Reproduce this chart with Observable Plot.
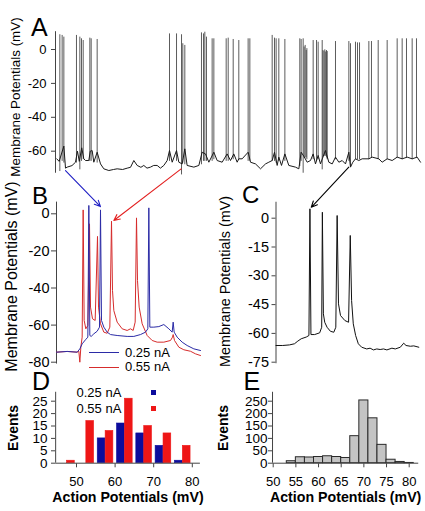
<!DOCTYPE html>
<html><head><meta charset="utf-8">
<script src="https://cdn.jsdelivr.net/npm/d3@7"></script>
<script src="https://cdn.jsdelivr.net/npm/@observablehq/plot@0.6"></script>
<style>
html,body{margin:0;padding:0;background:#fff;}
#fig{position:relative;width:425px;height:511px;overflow:hidden;font-family:"Liberation Sans",Arial,Helvetica,sans-serif;}
#fig svg{position:absolute;left:0;top:0;background:transparent !important;overflow:visible;}
.leg{position:absolute;font-size:13px;line-height:14px;height:14px;color:#000;white-space:nowrap;}
.sw{position:absolute;}
</style></head><body><div id="fig"></div>
<script>
// ---------------- DATA ----------------
// Panel A: long recording, baseline (time s, mV) and spikes [time s, peak mV, trough mV]
const traceA = [[0.2,-64.5],[0.6,-66],[1.37,-57],[1.64,-70],[1.91,-69.4],[2.7,-68.5],[3.28,-66.5],[3.6,-60],[3.9,-66],[4.3,-58],[4.64,-64.5],[4.92,-65.5],[5.46,-65.5],[5.7,-60],[6.01,-59.6],[6.28,-66.5],[6.83,-60.6],[7.38,-67.5],[7.92,-70.4],[8.74,-71.4],[9.5,-70.8],[10.11,-70.4],[11.0,-70.8],[11.75,-70.0],[12.3,-69.5],[12.84,-65.5],[13.39,-68.4],[14.0,-69.5],[14.48,-68.4],[15.0,-70],[15.57,-69.4],[16.1,-68.4],[16.67,-68.4],[17.2,-70],[17.76,-68.4],[18.31,-65.5],[18.69,-59.6],[19.13,-66.5],[19.84,-59.6],[20.22,-66.5],[20.77,-67.5],[21.2,-58.6],[21.58,-68.4],[22.68,-69.4],[23.5,-68.4],[24.04,-60.6],[24.59,-61.6],[25.14,-66.5],[25.96,-60.6],[26.5,-65.5],[27.32,-66.5],[28.14,-61.6],[28.69,-65.5],[29.23,-61.6],[29.78,-66.5],[30.05,-64.5],[30.6,-64.5],[31.58,-60.6],[31.97,-66.5],[32.79,-67.5],[33.61,-70.4],[34.43,-67.5],[34.97,-66.5],[35.52,-65.5],[35.9,-60.6],[36.34,-68.4],[36.61,-63.5],[37.05,-68.4],[37.6,-61.6],[38.25,-68.4],[39.34,-69.4],[39.89,-70.4],[40.27,-60.6],[40.71,-63],[41.26,-66.5],[41.8,-65.5],[42.24,-61.6],[42.62,-67.5],[43.06,-62.5],[43.44,-67.5],[43.83,-63.5],[44.26,-59.6],[44.81,-66.5],[45.36,-67.5],[45.9,-63.5],[46.45,-66.5],[47.0,-65.5],[47.54,-67.5],[48.09,-60.6],[48.36,-69.4],[48.74,-66.5],[49.18,-64.5],[49.73,-65.5],[50.27,-64.5],[51.37,-64.5],[51.91,-63.5],[53.0,-64.5],[53.55,-66.5],[54.37,-64.5],[55.19,-65.5],[56.01,-63.5],[56.83,-64.5],[57.65,-63.5],[58.47,-64.5],[59.29,-63.5],[59.84,-66.5]];
const spikesA = [[0.71,8.7,-72],[1.09,8.3,-66],[1.37,7.3,-67],[3.44,8.3,-67],[3.99,7.3,-71],[4.26,6.3,-66],[4.54,5.3,-65],[5.63,6.7,-66],[5.85,6.3,-66],[6.83,5.9,-67],[18.69,9.2,-66],[19.84,9.2,-66],[20.66,8.7,-74],[20.87,3.4,-67],[21.2,2.4,-68],[23.93,9.8,-68],[24.26,9.2,-66],[24.48,10.2,-66],[24.75,7.3,-66],[25.68,6.3,-66],[25.96,6.3,-65],[27.98,6.3,-66],[28.31,6.7,-66],[29.13,5.9,-65],[30.05,5.3,-65],[31.58,6.3,-66],[31.86,6.3,-66],[35.52,8.3,-66],[35.9,6.7,-66],[36.17,6.3,-67],[36.61,6.3,-66],[37.6,5.9,-66],[40.05,6.3,-69],[40.27,5.9,-66],[40.6,6.3,-73],[40.76,1.5,-64],[40.93,2.4,-64],[41.1,-0.6,-64],[41.21,0.5,-65],[42.24,5.3,-65],[42.79,5.3,-66],[43.06,4.3,-65],[43.72,5.3,-71],[43.83,-0.6,-64],[44.0,-1.0,-63],[44.15,-0.2,-63],[44.3,-1.5,-63],[44.43,-0.6,-64],[44.54,-1.2,-65],[45.9,4.7,-65],[48.09,4.7,-66],[48.36,3.4,-69],[49.18,4.3,-65],[49.51,3.9,-65],[49.84,3.9,-65],[51.37,4.7,-65],[51.8,4.7,-64],[52.9,5.3,-65],[54.37,5.3,-65],[56.01,6.3,-64],[56.83,6.3,-65],[57.54,6.3,-64],[58.47,6.3,-65],[59.18,6.3,-64]];
const ticksA = [0,-20,-40,-60];

// Panel B: two current injections (time ms, mV)
const traceB025 = [[0,-74.6],[80,-74.2],[155,-74.6],[175,-72.8],[192.5,-70.1],[217.5,-67.9],[235,-66.5],[242.5,4.5],[250,-65.6],[260,-66.1],[280,-64.7],[305,-63.3],[322.5,-61.1],[330,2.1],[337.5,-57.5],[355,-61.1],[380,-63.8],[405,-65.1],[455,-65.6],[530,-66.1],[580,-66.1],[630,-65.1],[667.5,-63.8],[685,-62.0],[692.5,3.2],[700,-61.1],[730,-61.1],[767.5,-60.8],[805,-59.7],[842.5,-62.0],[867.5,-63.8],[875,-58.4],[882.5,-63.8],[905,-66.5],[942.5,-69.2],[980,-71.0],[1030,-72.8],[1080,-73.7]];
const traceB055 = [[0,-74.6],[80,-74.2],[155,-74.6],[167.5,-74.1],[175,-80.0],[182.5,-71.9],[192.5,-66.5],[200,2.1],[207.5,-57.5],[220,-62.0],[235,-60.2],[247.5,-5.4],[255,-50.3],[270,-56.6],[290,-57.5],[307.5,-12.2],[315,-50.3],[330,-59.3],[355,-63.8],[380,-64.4],[400,-61.1],[412.5,-4.0],[420,-41.4],[430,-52.2],[455,-58.4],[492.5,-62.0],[530,-62.9],[555,-62.0],[575,-62.9],[590,-58.4],[600,-2.2],[607.5,-36.0],[620,-50.3],[642.5,-59.3],[680,-65.6],[717.5,-68.3],[755,-69.2],[805,-69.2],[855,-68.3],[870,-66.5],[875,-65.1],[885,-68.3],[917.5,-71.9],[955,-73.3],[1005,-74.1],[1042.5,-75.5],[1080,-76.4]];
const ticksB = [0,-20,-40,-60,-80];
const seriesNames = ["0.25 nA","0.55 nA"];

// Panel C: burst (time ms, mV)
const traceC = [[0,-66.3],[40,-66.3],[80,-66.0],[110,-65.4],[130,-64.0],[150,-62.8],[180,-61.9],[196,-61.1],[202,4.9],[208,-60.6],[230,-60.6],[260,-59.7],[272,-56.8],[276,3.1],[282,-49.8],[290,-54.2],[304,-56.8],[324,-58.9],[344,-59.4],[356,-56.8],[364,1.4],[372,-44.6],[384,-50.7],[410,-53.3],[432,-54.2],[442,-9.0],[450,-42.9],[460,-55.0],[474,-61.1],[490,-65.4],[510,-67.2],[540,-68.1],[560,-67.7],[580,-68.6],[600,-68.1],[620,-68.4],[640,-68.1],[660,-68.6],[690,-67.7],[710,-68.1],[740,-67.2],[760,-65.1],[774,-66.3],[800,-66.7],[820,-66.5],[850,-67.2]];
const ticksC = [0,-15,-30,-45,-60,-75];

// Panel D: action potential amplitude histogram, 5 mV bins (lower edge)
const binsD = [45,50,55,60,65,70,75];
const countsD025 = [0,0,10,16,12,7,1];
const countsD055 = [1,17,13,26,15,12,7];
const ticksDy = [0,5,10,15,20,25];
const ticksDx = [50,60,70,80];

// Panel E: action potential amplitude histogram, 2 mV bins (lower edge)
const binsE = [53,55,57,59,61,63,65,67,69,71,73,75,77,79];
const countsE = [8,24,23,25,28,25,21,109,253,181,74,14,5,1];
const ticksEy = [0,50,100,150,200,250];
const ticksEx = [50,55,60,65,70,75,80];

// ---------------- STYLE ----------------
const W = 425, H = 511;
const FONT = '"Liberation Sans", Arial, Helvetica, sans-serif';
const BLUE = "#2b2ba6", RED = "#d62c2c", DBLUE = "#0c0c9c", DRED = "#ee1616";
const fmt = d => String(d);
const base = {width: W, height: H, style: {background: "transparent", fontFamily: FONT, overflow: "visible"}};
const fig = document.getElementById("fig");
const add = p => { fig.appendChild(p); return p; };
const yLabel = (txt, dx, size, bold) => Plot.text([txt], {frameAnchor: "left", textAnchor: "middle", lineAnchor: "middle", rotate: -90, dx, fontSize: size, fontWeight: bold ? "bold" : "normal"});
const letter = (txt, dx, dy, size) => Plot.text([txt], {frameAnchor: "top-left", textAnchor: "start", lineAnchor: "middle", dx, dy, fontSize: size});

// ---------------- PANEL A ----------------
const plotA = add(Plot.plot({
  ...base,
  marginLeft: 55, marginRight: 4, marginTop: 17, marginBottom: H - 176,
  x: {domain: [0, 60], range: [55, 421], axis: null},
  y: {domain: [-60, 0], range: [150.7, 49]},
  marks: [
    Plot.ruleX([0], {y1: -73, y2: 10.5, stroke: "#444"}),
    Plot.axisY({ticks: ticksA, anchor: "left", tickSize: 4, tickPadding: 5, fontSize: 13, tickFormat: fmt, label: null, stroke: "#444"}),
    Plot.ruleX(spikesA, {x: d => d[0], y1: d => d[2], y2: d => d[1], stroke: "#4a4a4a", strokeWidth: 0.9}),
    Plot.line(traceA, {x: d => d[0], y: d => d[1], stroke: "#1a1a1a", strokeWidth: 1}),
    yLabel("Membrane Potentials (mV)", -40, 13.4),
    letter("A", -24.5, 10, 25)
  ]
}));

// ---------------- PANEL B ----------------
const plotB = add(Plot.plot({
  ...base,
  marginLeft: 56, marginRight: 225, marginTop: 180, marginBottom: H - 372,
  x: {domain: [0, 1080], range: [56, 200], axis: null},
  y: {domain: [-80, 0], range: [361.7, 213.3]},
  marks: [
    Plot.ruleX([0], {y1: -81, y2: 6.3, stroke: "#444"}),
    Plot.axisY({ticks: ticksB, anchor: "left", tickSize: 5, tickPadding: 2, fontSize: 14.5, tickFormat: fmt, label: null, stroke: "#444"}),
    Plot.line(traceB055, {x: d => d[0], y: d => d[1], stroke: RED, strokeWidth: 1}),
    Plot.line(traceB025, {x: d => d[0], y: d => d[1], stroke: BLUE, strokeWidth: 1}),
    yLabel("Membrane Potentials (mV)", -45, 16),
    letter("B", -24.5, 15.5, 24)
  ]
}));

// ---------------- PANEL C ----------------
const plotC = add(Plot.plot({
  ...base,
  marginLeft: 275.5, marginRight: 6.7, marginTop: 195, marginBottom: H - 367,
  x: {domain: [0, 850], range: [275.5, 418.3], axis: null},
  y: {domain: [-75, 0], range: [361.7, 217.7]},
  marks: [
    Plot.ruleX([0], {y1: -75.8, y2: 8.3, stroke: "#444"}),
    Plot.axisY({ticks: ticksC, anchor: "left", tickSize: 4, tickPadding: 3, fontSize: 14.5, tickFormat: fmt, label: null, stroke: "#444"}),
    Plot.line(traceC, {x: d => d[0], y: d => d[1], stroke: "#111", strokeWidth: 1}),
    yLabel("Membrane Potentials (mV)", -50.5, 14.4),
    letter("C", -34, 0, 24)
  ]
}));

// ---------------- PANEL D ----------------
const barsD = [];
binsD.forEach((b, i) => {
  barsD.push({bin: b, series: seriesNames[0], k: 0, count: countsD025[i]});
  barsD.push({bin: b, series: seriesNames[1], k: 1, count: countsD055[i]});
});
const plotD = add(Plot.plot({
  ...base,
  marginLeft: 55, marginRight: 225, marginTop: 391.7, marginBottom: 47.7,
  x: {domain: [50, 80], range: [76, 191.8]},
  y: {domain: [0, 25], range: [462.7, 400.7]},
  marks: [
    Plot.rectY(barsD.filter(d => d.count > 0), {
      x1: d => d.bin + 0.5 + d.k * 2.05, x2: d => d.bin + 2.5 + d.k * 2.05,
      y1: 0, y2: "count", fill: d => d.k ? DRED : DBLUE, stroke: d => d.k ? DRED : DBLUE, strokeWidth: 0.6, inset: 0
    }),
    Plot.ruleX([44.6], {y1: 0, y2: 28.6, stroke: "#444"}),
    Plot.ruleY([0], {x1: 44.6, x2: 82.1, stroke: "#444"}),
    Plot.axisY({ticks: ticksDy, anchor: "left", tickSize: 4, tickPadding: 4, fontSize: 13.5, tickFormat: fmt, label: null, stroke: "#444"}),
    Plot.axisX({ticks: ticksDx, anchor: "bottom", tickSize: 4, tickPadding: 9.4, fontSize: 13, tickFormat: fmt, label: null, stroke: "#444"}),
    yLabel("Events", -41.5, 14, true),
    Plot.text(["Action Potentials (mV)"], {frameAnchor: "bottom", textAnchor: "middle", lineAnchor: "middle", dy: 33.7, fontSize: 14.2, fontWeight: "bold"}),
    letter("D", -23.5, -10, 25)
  ]
}));

// ---------------- PANEL E ----------------
const barsE = binsE.map((b, i) => ({bin: b, count: countsE[i]}));
const plotE = add(Plot.plot({
  ...base,
  marginLeft: 272, marginRight: 6.7, marginTop: 391.7, marginBottom: 47.7,
  x: {domain: [50, 80], range: [272.7, 408.7]},
  y: {domain: [0, 250], range: [462.7, 400.7]},
  marks: [
    Plot.rectY(barsE, {x1: "bin", x2: d => d.bin + 2, y1: 0, y2: "count", fill: "#c4c4c4", stroke: "#2a2a2a", strokeWidth: 1, inset: 0}),
    Plot.ruleX([49.85], {y1: 0, y2: 286, stroke: "#444"}),
    Plot.ruleY([0], {x1: 49.85, x2: 82.1, stroke: "#444"}),
    Plot.axisY({ticks: ticksEy, anchor: "left", tickSize: 4, tickPadding: 1, fontSize: 13.5, tickFormat: fmt, label: null, stroke: "#444"}),
    Plot.axisX({ticks: ticksEx, anchor: "bottom", tickSize: 4, tickPadding: 9.4, fontSize: 13, tickFormat: fmt, label: null, stroke: "#444"}),
    yLabel("Events", -48.5, 14, true),
    Plot.text(["Action Potentials (mV)"], {frameAnchor: "bottom", textAnchor: "middle", lineAnchor: "middle", dy: 33.7, fontSize: 14.2, fontWeight: "bold"}),
    letter("E", -29, -10, 25)
  ]
}));

// ---------------- ARROWS (data coordinates of source / target panels) ----------------
const arrowLinks = [
  {from: [plotA, 1.64, -71.4], to: [plotB, 330, 3.9], color: "#1f1fc4"},
  {from: [plotA, 20.6, -70.4], to: [plotB, 430, -3.6], color: "#e32020"},
  {from: [plotA, 48.08, -69.4], to: [plotC, 210, 5.7], color: "#000"}
];
const px = (p, t, v) => [p.scale("x").apply(t), p.scale("y").apply(v)];
const arrowsPx = arrowLinks.map(a => {
  const [x1, y1] = px(...a.from), [x2, y2] = px(...a.to);
  return {x1, y1, x2, y2, color: a.color};
});
add(Plot.plot({
  ...base, margin: 0,
  x: {type: "identity", axis: null}, y: {type: "identity", axis: null},
  marks: arrowsPx.map(a => Plot.arrow([a], {x1: "x1", y1: "y1", x2: "x2", y2: "y2", stroke: a.color, strokeWidth: 1.1, headLength: 9, headAngle: 50}))
}));

// ---------------- LEGENDS ----------------
function legLine(x, y, w, color) {
  const d = document.createElement("div");
  d.className = "sw";
  Object.assign(d.style, {left: x + "px", top: (y - 0.5) + "px", width: w + "px", height: "1px", background: color});
  fig.appendChild(d);
}
function legSquare(x, y, s, color) {
  const d = document.createElement("div");
  d.className = "sw";
  Object.assign(d.style, {left: x + "px", top: (y - s / 2) + "px", width: s + "px", height: s + "px", background: color});
  fig.appendChild(d);
}
function legText(x, y, txt) {
  const d = document.createElement("div");
  d.className = "leg";
  d.textContent = txt;
  Object.assign(d.style, {left: x + "px", top: (y - 7) + "px"});
  fig.appendChild(d);
}
// Panel B legend
legLine(89, 352.7, 29.5, BLUE); legText(125, 352.7, seriesNames[0]);
legLine(89, 367.3, 29.5, RED); legText(125, 366.7, seriesNames[1]);
// Panel D legend
legText(76.5, 392.7, seriesNames[0]); legSquare(150.5, 392.5, 5.5, DBLUE);
legText(76.5, 409, seriesNames[1]); legSquare(150.5, 408.5, 5.5, DRED);
</script></body></html>
